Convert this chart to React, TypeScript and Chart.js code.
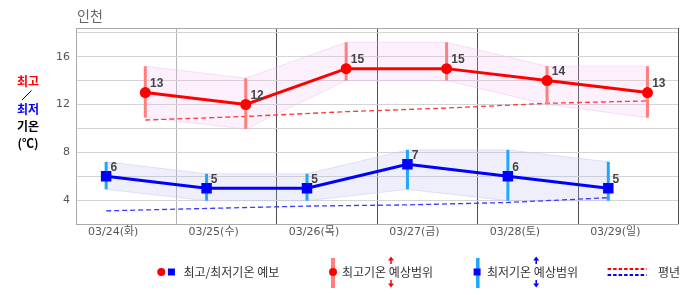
import React, { useEffect, useRef } from 'react';
import { Chart, registerables } from 'chart.js';

Chart.register(...registerables);

// ---------- data ----------
const cityName = '인천';
const dates = ['03/24(화)', '03/25(수)', '03/26(목)', '03/27(금)', '03/28(토)', '03/29(일)'];
const maxTemp = [13, 12, 15, 15, 14, 13];
const minTemp = [6, 5, 5, 7, 6, 5];
const maxRangeHigh = [15.2, 14.2, 17.2, 17.2, 15.2, 15.2];
const maxRangeLow = [10.9, 9.95, 14, 14, 12, 10.9];
const minRangeHigh = [7.2, 6.2, 6.2, 8.2, 8.2, 7.2];
const minRangeLow = [4.9, 3.95, 3.95, 4.9, 3.95, 3.95];
const maxNormal = [10.7, 11.0, 11.4, 11.7, 12.1, 12.3];
const minNormal = [3.1, 3.3, 3.5, 3.6, 3.8, 4.2];
const yTickLabels = [4, 8, 12, 16];
const yGridValues = [2, 4, 6, 8, 10, 12, 14, 16, 18];
const Y_MIN = 2;
const Y_MAX = 18.4;
const legendTexts = ['최고/최저기온 예보', '최고기온 예상범위', '최저기온 예상범위', '평년'];

// ---------- style / placement ----------
const MAX_OFF = 0.69;
const MIN_OFF = 0.3;
const LABEL_OFF = 0.37;
const LATIN = "'DejaVu Sans', 'Noto Sans CJK KR', sans-serif";
const KR = "'Noto Sans CJK KR', sans-serif";
const ARIAL = "'Liberation Sans', Arial, sans-serif";

const pts = (values: number[], off: number) => values.map((v, i) => ({ x: i + off, y: v }));

function drawArrow(ctx: CanvasRenderingContext2D, x: number, tail: number, head: number, color: string) {
  const dir = head < tail ? -1 : 1;
  ctx.save();
  ctx.strokeStyle = color;
  ctx.fillStyle = color;
  ctx.lineWidth = 1.5;
  ctx.beginPath();
  ctx.moveTo(x, tail);
  ctx.lineTo(x, head - dir * 2);
  ctx.stroke();
  ctx.beginPath();
  ctx.moveTo(x, head);
  ctx.lineTo(x - 3, head - dir * 4);
  ctx.lineTo(x + 3, head - dir * 4);
  ctx.closePath();
  ctx.fill();
  ctx.restore();
}

const customPlugin = {
  id: 'customDraw',
  beforeDatasetsDraw(chart: any) {
    const ctx = chart.ctx as CanvasRenderingContext2D;
    const a = chart.chartArea;
    ctx.save();
    ctx.strokeStyle = '#505050';
    ctx.lineWidth = 1;
    ctx.beginPath();
    ctx.moveTo(Math.round(a.right) - 0.5, a.top);
    ctx.lineTo(Math.round(a.right) - 0.5, a.bottom);
    ctx.stroke();
    ctx.restore();
  },
  beforeDatasetDraw(chart: any, args: any) {
    const ds = chart.data.datasets[args.index];
    const xs = chart.scales.x;
    const ys = chart.scales.y;
    const ctx = chart.ctx as CanvasRenderingContext2D;
    let hi: number[] | null = null, lo: number[] | null = null, off = 0, color = '';
    if (ds.label === 'maxLine') { hi = maxRangeHigh; lo = maxRangeLow; off = MAX_OFF; color = '#ff7f7f'; }
    if (ds.label === 'minLine') { hi = minRangeHigh; lo = minRangeLow; off = MIN_OFF; color = '#1ea7ff'; }
    if (!hi || !lo) return;
    ctx.save();
    ctx.strokeStyle = color;
    ctx.lineWidth = 3;
    for (let i = 0; i < hi.length; i++) {
      const px = xs.getPixelForValue(i + off);
      ctx.beginPath();
      ctx.moveTo(px, ys.getPixelForValue(hi[i]));
      ctx.lineTo(px, ys.getPixelForValue(lo[i]));
      ctx.stroke();
    }
    ctx.restore();
  },
  afterDatasetsDraw(chart: any) {
    const ctx = chart.ctx as CanvasRenderingContext2D;
    ctx.save();
    ctx.font = `bold 12px ${ARIAL}`;
    ctx.fillStyle = '#444';
    ctx.textAlign = 'left';
    ctx.textBaseline = 'alphabetic';
    chart.data.datasets.forEach((ds: any, di: number) => {
      const meta = chart.getDatasetMeta(di);
      if (ds.label === 'maxLine') {
        meta.data.forEach((p: any, i: number) => ctx.fillText(String(maxTemp[i]), p.x + 4.7, p.y - 5.5));
      } else if (ds.label === 'minLine') {
        meta.data.forEach((p: any, i: number) => ctx.fillText(String(minTemp[i]), p.x + 4.3, p.y - 5.3));
      }
    });
    ctx.restore();
  },
  afterDraw(chart: any) {
    const ctx = chart.ctx as CanvasRenderingContext2D;
    ctx.save();
    // title
    ctx.font = `14px ${KR}`;
    ctx.fillStyle = '#666';
    ctx.textAlign = 'left';
    ctx.textBaseline = 'middle';
    ctx.fillText(cityName, 77, 16);

    // left axis label
    ctx.textAlign = 'center';
    ctx.font = `bold 12px ${KR}`;
    ctx.fillStyle = '#ff0000';
    ctx.fillText('최고', 28, 81);
    ctx.strokeStyle = '#000';
    ctx.lineWidth = 1;
    ctx.beginPath();
    ctx.moveTo(22, 100);
    ctx.lineTo(31.5, 90.5);
    ctx.stroke();
    ctx.fillStyle = '#0000ff';
    ctx.fillText('최저', 28, 109);
    ctx.fillStyle = '#000';
    ctx.fillText('기온', 28, 126);
    ctx.fillText('(℃)', 28, 143);

    // legend
    const ly = 272;
    ctx.textAlign = 'left';
    ctx.font = `12px ${KR}`;
    // item 1
    ctx.fillStyle = '#ff0000';
    ctx.beginPath();
    ctx.arc(161.3, ly, 4, 0, Math.PI * 2);
    ctx.fill();
    ctx.fillStyle = '#0000ff';
    ctx.fillRect(167.9, ly - 3.5, 7, 7);
    ctx.fillStyle = '#333';
    ctx.fillText(legendTexts[0], 183.5, ly);
    // item 2
    ctx.strokeStyle = '#ff7f7f';
    ctx.lineWidth = 4;
    ctx.beginPath();
    ctx.moveTo(333, 258);
    ctx.lineTo(333, 288);
    ctx.stroke();
    ctx.fillStyle = '#ff0000';
    ctx.beginPath();
    ctx.arc(333, ly, 4, 0, Math.PI * 2);
    ctx.fill();
    ctx.fillStyle = '#333';
    ctx.fillText(legendTexts[1], 342, ly);
    drawArrow(ctx, 391, 264, 256.5, '#ff0000');
    drawArrow(ctx, 391, 280, 287.5, '#ff0000');
    // item 3
    ctx.strokeStyle = '#1ea7ff';
    ctx.lineWidth = 3.5;
    ctx.beginPath();
    ctx.moveTo(477.8, 258);
    ctx.lineTo(477.8, 288);
    ctx.stroke();
    ctx.fillStyle = '#0000ff';
    ctx.fillRect(473.6, ly - 3.5, 7, 7);
    ctx.fillStyle = '#333';
    ctx.fillText(legendTexts[2], 487, ly);
    drawArrow(ctx, 536.2, 264, 256.5, '#0000ff');
    drawArrow(ctx, 536.2, 280, 287.5, '#0000ff');
    // item 4
    ctx.lineWidth = 2;
    ctx.setLineDash([3.5, 2]);
    ctx.strokeStyle = '#ff0000';
    ctx.beginPath();
    ctx.moveTo(607.6, 269);
    ctx.lineTo(646.6, 269);
    ctx.stroke();
    ctx.strokeStyle = '#0000ff';
    ctx.beginPath();
    ctx.moveTo(607.6, 275);
    ctx.lineTo(646.6, 275);
    ctx.stroke();
    ctx.setLineDash([]);
    ctx.fillStyle = '#333';
    ctx.fillText(legendTexts[3], 658, ly);
    ctx.restore();
  },
};

export default function App() {
  const ref = useRef<HTMLCanvasElement>(null);
  useEffect(() => {
    const canvas = ref.current;
    if (!canvas) return;
    const chart = new Chart(canvas, {
      type: 'line',
      data: {
        datasets: [
          {
            label: 'maxBandHigh', data: pts(maxRangeHigh, MAX_OFF), xAxisID: 'x', yAxisID: 'y',
            fill: '+1', backgroundColor: 'rgba(240,180,240,0.2)', borderColor: 'rgba(235,190,235,0.45)',
            borderWidth: 1, pointRadius: 0, order: 7,
          },
          {
            label: 'maxBandLow', data: pts(maxRangeLow, MAX_OFF), xAxisID: 'x', yAxisID: 'y',
            fill: false, borderColor: 'rgba(235,190,235,0.45)', borderWidth: 1, pointRadius: 0, order: 6,
          },
          {
            label: 'minBandHigh', data: pts(minRangeHigh, MIN_OFF), xAxisID: 'x', yAxisID: 'y',
            fill: '+1', backgroundColor: 'rgba(180,180,240,0.22)', borderColor: 'rgba(200,200,240,0.5)',
            borderWidth: 1, pointRadius: 0, order: 5,
          },
          {
            label: 'minBandLow', data: pts(minRangeLow, MIN_OFF), xAxisID: 'x', yAxisID: 'y',
            fill: false, borderColor: 'rgba(200,200,240,0.5)', borderWidth: 1, pointRadius: 0, order: 4,
          },
          {
            label: 'maxNormal', data: pts(maxNormal, MAX_OFF), xAxisID: 'x', yAxisID: 'y',
            fill: false, borderColor: '#ff3a3a', borderWidth: 1.3, borderDash: [5, 3], pointRadius: 0, order: 3,
          },
          {
            label: 'minNormal', data: pts(minNormal, MIN_OFF), xAxisID: 'x', yAxisID: 'y',
            fill: false, borderColor: '#3a3aff', borderWidth: 1.3, borderDash: [5, 3], pointRadius: 0, order: 2,
          },
          {
            label: 'maxLine', data: pts(maxTemp, MAX_OFF), xAxisID: 'x', yAxisID: 'y',
            fill: false, borderColor: '#ff0000', borderWidth: 3, pointStyle: 'circle', pointRadius: 5.5,
            pointBackgroundColor: '#ff0000', pointBorderColor: '#ff0000', pointBorderWidth: 0, order: 1,
          },
          {
            label: 'minLine', data: pts(minTemp, MIN_OFF), xAxisID: 'x', yAxisID: 'y',
            fill: false, borderColor: '#0000ff', borderWidth: 3, pointStyle: 'rect', pointRadius: 7.4,
            pointBackgroundColor: '#0000ff', pointBorderColor: '#0000ff', pointBorderWidth: 0, order: 0,
          },
        ],
      },
      options: {
        responsive: false,
        animation: false,
        events: [],
        layout: { padding: { left: 56, right: 4, top: 28, bottom: 47 } },
        plugins: { legend: { display: false }, tooltip: { enabled: false }, title: { display: false } },
        scales: {
          x: {
            type: 'linear', axis: 'x', position: 'bottom', min: 0, max: dates.length,
            afterBuildTicks: (s: any) => { s.ticks = dates.map((_, i) => ({ value: i })).concat([{ value: dates.length }]); },
            ticks: { display: false },
            grid: {
              drawTicks: false,
              color: (c: any) => {
                const v = c.tick ? c.tick.value : 0;
                if (v === 0) return '#aaaaaa';
                if (v === 1) return '#b4b4b4';
                return '#505050';
              },
            },
            border: { display: false },
            afterFit: (s: any) => { s.height = 0; },
          },
          x2: {
            type: 'linear', axis: 'x', position: 'bottom', min: -LABEL_OFF, max: dates.length - LABEL_OFF,
            afterBuildTicks: (s: any) => { s.ticks = dates.map((_, i) => ({ value: i })); },
            ticks: {
              callback: (v: any) => dates[Math.round(Number(v))] ?? '',
              font: { family: LATIN, size: 11 }, color: '#555', padding: 2, maxRotation: 0, autoSkip: false,
            },
            grid: { display: false, drawTicks: false },
            border: { display: false },
            afterFit: (s: any) => { s.height = 24; },
          },
          y: {
            type: 'linear', position: 'left', min: Y_MIN, max: Y_MAX,
            afterBuildTicks: (s: any) => { s.ticks = yGridValues.concat([Y_MAX]).map((v) => ({ value: v })); },
            ticks: {
              callback: (v: any) => (yTickLabels.includes(Number(v)) ? String(v) : ''),
              font: { family: LATIN, size: 11 }, color: '#555', padding: 6, autoSkip: false,
            },
            grid: {
              drawTicks: false,
              color: (c: any) => {
                const v = c.tick ? c.tick.value : 0;
                if (v === Y_MAX || v === Y_MIN) return '#aaaaaa';
                return '#d4d4d4';
              },
            },
            border: { display: true, color: '#aaaaaa' },
            afterFit: (s: any) => { s.width = 20; },
          },
        },
      },
      plugins: [customPlugin],
    } as any);
    return () => chart.destroy();
  }, []);
  return (
    <div style={{ position: 'fixed', left: 0, top: 0, width: 686, height: 295, background: '#fff' }}>
      <canvas ref={ref} width={686} height={295} style={{ width: 686, height: 295, display: 'block' }} />
    </div>
  );
}
